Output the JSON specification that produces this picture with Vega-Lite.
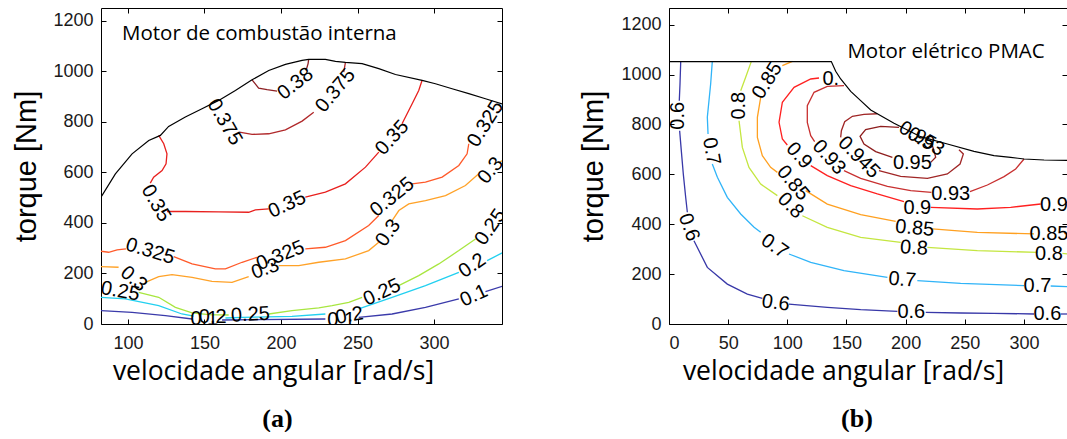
{
"$schema": "https://vega.github.io/schema/vega-lite/v6.json",
"padding": {"left": 12, "top": 7, "right": 0, "bottom": 0},
"background": "white",
"spacing": 76,
"config": {
  "view": {"stroke": null},
  "axis": {"grid": false, "domainColor": "#000", "domainWidth": 1, "tickColor": "#000", "tickSize": -5, "labelFont": "Liberation Sans", "labelFontSize": 18, "labelColor": "#1a1a1a", "titleColor": "#000", "titleFontWeight": "normal", "format": "d"}
},
"datasets": {
  "linesA": [
    {"s":"A1","lev":"0.38","x":181.1,"y":966},{"s":"A1","lev":"0.38","x":185.4,"y":933},{"s":"A1","lev":"0.38","x":190.9,"y":926.7},{"s":"A1","lev":"0.38","x":197.4,"y":921.5},
    {"s":"A2","lev":"0.38","x":216.4,"y":1003},{"s":"A2","lev":"0.38","x":217.7,"y":1030},{"s":"A2","lev":"0.38","x":218.1,"y":1047},
    {"s":"A4","lev":"0.375","x":172.8,"y":759},{"s":"A4","lev":"0.375","x":181.1,"y":750},{"s":"A4","lev":"0.375","x":192.0,"y":752.5},{"s":"A4","lev":"0.375","x":202.9,"y":768},{"s":"A4","lev":"0.375","x":213.8,"y":802.6},{"s":"A4","lev":"0.375","x":221.4,"y":838},
    {"s":"A5","lev":"0.375","x":241.0,"y":996.7},{"s":"A5","lev":"0.375","x":242.1,"y":1035},
    {"s":"A6","lev":"0.35","x":120.1,"y":746},{"s":"A6","lev":"0.35","x":123.4,"y":713},{"s":"A6","lev":"0.35","x":125.5,"y":673},{"s":"A6","lev":"0.35","x":124.9,"y":633.7},{"s":"A6","lev":"0.35","x":122.3,"y":607},{"s":"A6","lev":"0.35","x":116.8,"y":581},{"s":"A6","lev":"0.35","x":114.6,"y":557},
    {"s":"A7","lev":"0.35","x":125.5,"y":445},{"s":"A7","lev":"0.35","x":137.5,"y":445},{"s":"A7","lev":"0.35","x":159.3,"y":443.6},{"s":"A7","lev":"0.35","x":178.9,"y":442},{"s":"A7","lev":"0.35","x":183.3,"y":451.5},{"s":"A7","lev":"0.35","x":192.0,"y":455.4},
    {"s":"A8","lev":"0.35","x":215.9,"y":501.7},{"s":"A8","lev":"0.35","x":229.0,"y":521.5},{"s":"A8","lev":"0.35","x":242.1,"y":554.5},{"s":"A8","lev":"0.35","x":255.2,"y":620.5},{"s":"A8","lev":"0.35","x":263.9,"y":680},
    {"s":"A9","lev":"0.35","x":279.1,"y":792},{"s":"A9","lev":"0.35","x":285.7,"y":871},{"s":"A9","lev":"0.35","x":290.0,"y":924},{"s":"A9","lev":"0.35","x":292.2,"y":964},
    {"s":"A10","lev":"0.325","x":82.4,"y":287.8},{"s":"A10","lev":"0.325","x":87.4,"y":283.8},{"s":"A10","lev":"0.325","x":92.9,"y":293},{"s":"A10","lev":"0.325","x":98.7,"y":297},
    {"s":"A11","lev":"0.325","x":129.9,"y":266.7},{"s":"A11","lev":"0.325","x":141.9,"y":237.6},{"s":"A11","lev":"0.325","x":157.1,"y":217.8},{"s":"A11","lev":"0.325","x":163.7,"y":217.8},{"s":"A11","lev":"0.325","x":174.6,"y":244.2},{"s":"A11","lev":"0.325","x":184.4,"y":264},
    {"s":"A12","lev":"0.325","x":215.9,"y":297},{"s":"A12","lev":"0.325","x":229.0,"y":303.6},{"s":"A12","lev":"0.325","x":242.1,"y":330},{"s":"A12","lev":"0.325","x":257.3,"y":389.4},{"s":"A12","lev":"0.325","x":263.9,"y":429},
    {"s":"A13","lev":"0.325","x":285.7,"y":554.5},{"s":"A13","lev":"0.325","x":294.4,"y":561},{"s":"A13","lev":"0.325","x":305.3,"y":581},{"s":"A13","lev":"0.325","x":316.2,"y":627},{"s":"A13","lev":"0.325","x":321.6,"y":673},{"s":"A13","lev":"0.325","x":322.7,"y":713},
    {"s":"A14","lev":"0.325","x":342.3,"y":845},{"s":"A14","lev":"0.325","x":344.5,"y":851.5},
    {"s":"A15","lev":"0.3","x":82.4,"y":227},{"s":"A15","lev":"0.3","x":93.9,"y":224.4},
    {"s":"A16","lev":"0.3","x":111.4,"y":165},{"s":"A16","lev":"0.3","x":120.1,"y":187.5},{"s":"A16","lev":"0.3","x":128.8,"y":195.4},{"s":"A16","lev":"0.3","x":141.9,"y":184.8},{"s":"A16","lev":"0.3","x":154.9,"y":169},{"s":"A16","lev":"0.3","x":168.0,"y":165},{"s":"A16","lev":"0.3","x":178.9,"y":187.5},
    {"s":"A17","lev":"0.3","x":198.5,"y":231},{"s":"A17","lev":"0.3","x":211.6,"y":231},{"s":"A17","lev":"0.3","x":224.7,"y":244.2},{"s":"A17","lev":"0.3","x":242.1,"y":257.4},{"s":"A17","lev":"0.3","x":257.3,"y":290.4},{"s":"A17","lev":"0.3","x":263.9,"y":323.4},
    {"s":"A18","lev":"0.3","x":272.6,"y":409},{"s":"A18","lev":"0.3","x":277.0,"y":448.8},{"s":"A18","lev":"0.3","x":283.5,"y":475},{"s":"A18","lev":"0.3","x":294.4,"y":488.4},{"s":"A18","lev":"0.3","x":307.5,"y":508},{"s":"A18","lev":"0.3","x":320.5,"y":547.9},{"s":"A18","lev":"0.3","x":329.2,"y":594},
    {"s":"A19","lev":"0.3","x":342.3,"y":636},{"s":"A19","lev":"0.3","x":344.5,"y":647},
    {"s":"A20","lev":"0.25","x":107.0,"y":125.4},{"s":"A20","lev":"0.25","x":120.1,"y":105.6},{"s":"A20","lev":"0.25","x":131.0,"y":66},{"s":"A20","lev":"0.25","x":141.9,"y":43.6},{"s":"A20","lev":"0.25","x":152.8,"y":37},{"s":"A20","lev":"0.25","x":165.8,"y":35.6},
    {"s":"A21","lev":"0.25","x":192.0,"y":39.6},{"s":"A21","lev":"0.25","x":207.2,"y":52.8},{"s":"A21","lev":"0.25","x":224.7,"y":63.4},{"s":"A21","lev":"0.25","x":233.4,"y":72.6},{"s":"A21","lev":"0.25","x":244.3,"y":85.8},{"s":"A21","lev":"0.25","x":253.0,"y":105.6},
    {"s":"A22","lev":"0.25","x":276.9,"y":151.8},{"s":"A22","lev":"0.25","x":290.0,"y":191.4},{"s":"A22","lev":"0.25","x":303.1,"y":237.6},{"s":"A22","lev":"0.25","x":316.2,"y":290.4},{"s":"A22","lev":"0.25","x":327.1,"y":336.6},
    {"s":"A24","lev":"0.2","x":82.4,"y":105.6},{"s":"A24","lev":"0.2","x":98.3,"y":99},{"s":"A24","lev":"0.2","x":120.1,"y":72.6},{"s":"A24","lev":"0.2","x":135.3,"y":39.6},{"s":"A24","lev":"0.2","x":143.0,"y":31},
    {"s":"A25","lev":"0.2","x":163.7,"y":23.8},{"s":"A25","lev":"0.2","x":174.6,"y":26.4},{"s":"A25","lev":"0.2","x":207.2,"y":30.4},{"s":"A25","lev":"0.2","x":229.0,"y":39.6},
    {"s":"A26","lev":"0.2","x":250.8,"y":59.4},{"s":"A26","lev":"0.2","x":272.6,"y":105.6},{"s":"A26","lev":"0.2","x":294.4,"y":151.8},{"s":"A26","lev":"0.2","x":316.2,"y":204.6},
    {"s":"A27","lev":"0.2","x":334.7,"y":250.8},{"s":"A27","lev":"0.2","x":344.5,"y":281.2},
    {"s":"A28","lev":"0.1","x":82.4,"y":52.8},{"s":"A28","lev":"0.1","x":102.7,"y":46.2},{"s":"A28","lev":"0.1","x":124.5,"y":33},{"s":"A28","lev":"0.1","x":141.9,"y":19.8},
    {"s":"A29","lev":"0.1","x":161.5,"y":15.8},{"s":"A29","lev":"0.1","x":185.4,"y":17.2},{"s":"A29","lev":"0.1","x":229.0,"y":19.8},
    {"s":"A30","lev":"0.1","x":250.8,"y":26.4},{"s":"A30","lev":"0.1","x":272.6,"y":39.6},{"s":"A30","lev":"0.1","x":294.4,"y":66},{"s":"A30","lev":"0.1","x":316.2,"y":99},
    {"s":"A31","lev":"0.1","x":333.6,"y":128},{"s":"A31","lev":"0.1","x":344.5,"y":149.2}
  ],
  "boundA": [
    {"x":82.4,"y":501.7},{"x":91.8,"y":594},{"x":102.7,"y":673},{"x":113.6,"y":726},{"x":121.2,"y":746},{"x":126.6,"y":781.5},{"x":137.5,"y":818.5},{"x":148.4,"y":851.5},{"x":159.3,"y":884.5},{"x":170.2,"y":924},{"x":181.1,"y":966},{"x":192.0,"y":1003},{"x":202.9,"y":1027},{"x":213.8,"y":1043},{"x":218.1,"y":1047},{"x":229.0,"y":1047},{"x":235.6,"y":1039},{"x":242.1,"y":1035},{"x":253.0,"y":1030},{"x":263.9,"y":1010},{"x":274.8,"y":987},{"x":292.2,"y":964},{"x":300.9,"y":950.5},{"x":311.8,"y":930.7},{"x":322.7,"y":911},{"x":333.6,"y":891},{"x":344.5,"y":871}
  ],
  "labelsA": [
    {"t":"0.38","x":209.4,"y":950.5,"rot":-38},
    {"t":"0.375","x":163.2,"y":798.7,"rot":60},{"t":"0.375","x":235.6,"y":924,"rot":-50},
    {"t":"0.35","x":118.3,"y":478,"rot":60},{"t":"0.35","x":204.0,"y":472.6,"rot":-25},{"t":"0.35","x":272.6,"y":736.6,"rot":-48},
    {"t":"0.325","x":114.6,"y":287.8,"rot":17},{"t":"0.325","x":199.6,"y":270.6,"rot":-22},{"t":"0.325","x":272.6,"y":501.7,"rot":-39},{"t":"0.325","x":333.6,"y":792,"rot":-58},
    {"t":"0.3","x":103.8,"y":178.2,"rot":40},{"t":"0.3","x":189.8,"y":217.8,"rot":-20},{"t":"0.3","x":270.0,"y":360.4,"rot":-55},{"t":"0.3","x":336.9,"y":607,"rot":-50},
    {"t":"0.25","x":95.0,"y":129.4,"rot":10},{"t":"0.25","x":180.0,"y":37,"rot":-3},{"t":"0.25","x":266.0,"y":125,"rot":-25},{"t":"0.25","x":336.9,"y":382.8,"rot":-55},
    {"t":"0.2","x":155.4,"y":26.4,"rot":0},{"t":"0.2","x":244.7,"y":33,"rot":-10},{"t":"0.2","x":325.0,"y":231,"rot":-35},
    {"t":"0.1","x":149.9,"y":19.8,"rot":0},{"t":"0.1","x":239.3,"y":17.2,"rot":0},{"t":"0.1","x":326.0,"y":112.2,"rot":-25}
  ],
  "linesB": [
    {"s":"B1","lev":"0.6","x":9.9,"y":1052},{"s":"B1","lev":"0.6","x":9.3,"y":962},{"s":"B1","lev":"0.6","x":8.7,"y":895},
    {"s":"B2","lev":"0.6","x":9.0,"y":775},{"s":"B2","lev":"0.6","x":10.4,"y":695},{"s":"B2","lev":"0.6","x":12.1,"y":601},{"s":"B2","lev":"0.6","x":14.1,"y":508},{"s":"B2","lev":"0.6","x":15.5,"y":448},
    {"s":"B3","lev":"0.6","x":21.1,"y":334},{"s":"B3","lev":"0.6","x":32.4,"y":227},{"s":"B3","lev":"0.6","x":49.3,"y":160},{"s":"B3","lev":"0.6","x":66.2,"y":120},{"s":"B3","lev":"0.6","x":78.9,"y":103},
    {"s":"B4","lev":"0.6","x":101.4,"y":80},{"s":"B4","lev":"0.6","x":133.8,"y":67},{"s":"B4","lev":"0.6","x":162.0,"y":57.5},{"s":"B4","lev":"0.6","x":193.0,"y":50.8},
    {"s":"B5","lev":"0.6","x":217.0,"y":46.8},{"s":"B5","lev":"0.6","x":246.5,"y":44.1},{"s":"B5","lev":"0.6","x":274.7,"y":42.8},{"s":"B5","lev":"0.6","x":308.5,"y":40.1},
    {"s":"B6","lev":"0.6","x":331.1,"y":40.1},{"s":"B6","lev":"0.6","x":337.0,"y":40.1},
    {"s":"B7","lev":"0.7","x":36.6,"y":1053},{"s":"B7","lev":"0.7","x":35.2,"y":962},{"s":"B7","lev":"0.7","x":32.4,"y":829},{"s":"B7","lev":"0.7","x":33.0,"y":762},
    {"s":"B8","lev":"0.7","x":36.6,"y":641.5},{"s":"B8","lev":"0.7","x":40.9,"y":588},{"s":"B8","lev":"0.7","x":49.3,"y":508},{"s":"B8","lev":"0.7","x":60.6,"y":441},{"s":"B8","lev":"0.7","x":71.9,"y":387.6},{"s":"B8","lev":"0.7","x":77.5,"y":367.5},
    {"s":"B9","lev":"0.7","x":101.4,"y":280.7},{"s":"B9","lev":"0.7","x":119.8,"y":247},{"s":"B9","lev":"0.7","x":147.9,"y":213.8},{"s":"B9","lev":"0.7","x":184.6,"y":187},
    {"s":"B10","lev":"0.7","x":209.9,"y":173.7},{"s":"B10","lev":"0.7","x":246.5,"y":163},{"s":"B10","lev":"0.7","x":300.1,"y":153.7},
    {"s":"B11","lev":"0.7","x":322.6,"y":152.4},{"s":"B11","lev":"0.7","x":337.0,"y":149.7},
    {"s":"B12","lev":"0.8","x":69.6,"y":1053},{"s":"B12","lev":"0.8","x":64.8,"y":989},{"s":"B12","lev":"0.8","x":60.6,"y":935.6},
    {"s":"B13","lev":"0.8","x":59.2,"y":815},{"s":"B13","lev":"0.8","x":62.0,"y":708},{"s":"B13","lev":"0.8","x":67.6,"y":628},{"s":"B13","lev":"0.8","x":77.5,"y":561},{"s":"B13","lev":"0.8","x":91.6,"y":514.6},
    {"s":"B14","lev":"0.8","x":112.7,"y":434},{"s":"B14","lev":"0.8","x":133.8,"y":387.6},{"s":"B14","lev":"0.8","x":162.0,"y":347.5},{"s":"B14","lev":"0.8","x":195.8,"y":327.5},
    {"s":"B15","lev":"0.8","x":218.4,"y":307.4},{"s":"B15","lev":"0.8","x":260.6,"y":294},{"s":"B15","lev":"0.8","x":311.4,"y":287.4},
    {"s":"B16","lev":"0.8","x":332.5,"y":283.3},{"s":"B16","lev":"0.8","x":337.0,"y":280.7},
    {"s":"B17","lev":"0.85","x":104.3,"y":1053},{"s":"B17","lev":"0.85","x":95.8,"y":1036},
    {"s":"B18","lev":"0.85","x":77.5,"y":909},{"s":"B18","lev":"0.85","x":74.7,"y":828.7},{"s":"B18","lev":"0.85","x":74.7,"y":748.5},{"s":"B18","lev":"0.85","x":78.9,"y":675},{"s":"B18","lev":"0.85","x":85.9,"y":628},{"s":"B18","lev":"0.85","x":91.6,"y":608},
    {"s":"B19","lev":"0.85","x":115.5,"y":534.6},{"s":"B19","lev":"0.85","x":133.8,"y":481},{"s":"B19","lev":"0.85","x":162.0,"y":438.4},{"s":"B19","lev":"0.85","x":191.6,"y":411.7},
    {"s":"B20","lev":"0.85","x":222.6,"y":381},{"s":"B20","lev":"0.85","x":260.6,"y":367.5},{"s":"B20","lev":"0.85","x":308.5,"y":361},
    {"s":"B21","lev":"0.85","x":333.9,"y":362},{"s":"B21","lev":"0.85","x":337.0,"y":363.5},
    {"s":"B23","lev":"0.9","x":126.8,"y":986.4},{"s":"B23","lev":"0.9","x":119.8,"y":982.4},{"s":"B23","lev":"0.9","x":105.7,"y":949},{"s":"B23","lev":"0.9","x":95.8,"y":888.8},{"s":"B23","lev":"0.9","x":93.0,"y":808.6},{"s":"B23","lev":"0.9","x":95.8,"y":741.8},{"s":"B23","lev":"0.9","x":100.0,"y":717.7},
    {"s":"B24","lev":"0.9","x":119.8,"y":634.9},{"s":"B24","lev":"0.9","x":133.8,"y":594.8},{"s":"B24","lev":"0.9","x":153.6,"y":554.7},{"s":"B24","lev":"0.9","x":176.1,"y":521.3},{"s":"B24","lev":"0.9","x":198.6,"y":490.5},
    {"s":"B25","lev":"0.9","x":221.2,"y":467.8},{"s":"B25","lev":"0.9","x":260.6,"y":461.1},{"s":"B25","lev":"0.9","x":288.8,"y":467.8},{"s":"B25","lev":"0.9","x":314.2,"y":481.2},
    {"s":"B26","lev":"0.9","x":335.3,"y":487.8},{"s":"B26","lev":"0.9","x":337.0,"y":489.2},
    {"s":"B27","lev":"0.93","x":147.9,"y":955.6},{"s":"B27","lev":"0.93","x":133.8,"y":953},{"s":"B27","lev":"0.93","x":122.6,"y":929},{"s":"B27","lev":"0.93","x":116.9,"y":875.4},{"s":"B27","lev":"0.93","x":116.9,"y":808.6},{"s":"B27","lev":"0.93","x":119.8,"y":755.1},{"s":"B27","lev":"0.93","x":123.1,"y":731},
    {"s":"B28","lev":"0.93","x":147.9,"y":614.8},{"s":"B28","lev":"0.93","x":162.0,"y":584},{"s":"B28","lev":"0.93","x":184.6,"y":552},{"s":"B28","lev":"0.93","x":204.3,"y":534.6},{"s":"B28","lev":"0.93","x":221.8,"y":528},
    {"s":"B29","lev":"0.93","x":254.4,"y":530.6},{"s":"B29","lev":"0.93","x":269.1,"y":557.3},{"s":"B29","lev":"0.93","x":283.2,"y":590.8},{"s":"B29","lev":"0.93","x":293.0,"y":621.5},{"s":"B29","lev":"0.93","x":300.1,"y":661.6},
    {"s":"B30","lev":"0.945","x":176.0,"y":843},{"s":"B30","lev":"0.945","x":164.8,"y":840.7},{"s":"B30","lev":"0.945","x":155.0,"y":832.7},{"s":"B30","lev":"0.945","x":148.5,"y":811.3},{"s":"B30","lev":"0.945","x":145.7,"y":775.2},{"s":"B30","lev":"0.945","x":145.1,"y":748.5},
    {"s":"B31","lev":"0.945","x":177.5,"y":614.8},{"s":"B31","lev":"0.945","x":195.8,"y":592},{"s":"B31","lev":"0.945","x":218.4,"y":584},{"s":"B31","lev":"0.945","x":235.3,"y":601.4},{"s":"B31","lev":"0.945","x":246.0,"y":641.5},{"s":"B31","lev":"0.945","x":248.8,"y":681.6},{"s":"B31","lev":"0.945","x":245.1,"y":699},
    {"s":"B32","lev":"0.95","x":194.4,"y":788.6},{"s":"B32","lev":"0.95","x":178.9,"y":792.6},{"s":"B32","lev":"0.95","x":166.2,"y":779.2},{"s":"B32","lev":"0.95","x":161.5,"y":752.5},{"s":"B32","lev":"0.95","x":164.8,"y":721.7},{"s":"B32","lev":"0.95","x":174.7,"y":691},{"s":"B32","lev":"0.95","x":188.8,"y":668.3},
    {"s":"B33","lev":"0.95","x":221.2,"y":648.2},{"s":"B33","lev":"0.95","x":225.4,"y":668.3},{"s":"B33","lev":"0.95","x":224.0,"y":695},{"s":"B33","lev":"0.95","x":222.6,"y":715}
  ],
  "boundB": [
    {"x":0,"y":1052},{"x":137.2,"y":1052},{"x":140.9,"y":1013.1},{"x":145.1,"y":982.4},{"x":153.6,"y":932.9},{"x":162.0,"y":895.5},{"x":170.5,"y":858.1},{"x":190.2,"y":804.6},{"x":212.7,"y":751.1},{"x":235.3,"y":721.7},{"x":257.8,"y":692.3},{"x":274.7,"y":675},{"x":288.8,"y":668.3},{"x":300.1,"y":661.6},{"x":317.0,"y":657.6},{"x":337.0,"y":656.2}
  ],
  "labelsB": [
    {"t":"0.6","x":7.6,"y":835,"rot":-90},{"t":"0.6","x":16.9,"y":387.6,"rot":70},{"t":"0.6","x":90.2,"y":84.2,"rot":8},{"t":"0.6","x":204.8,"y":46.8,"rot":0},{"t":"0.6","x":319.8,"y":40.1,"rot":0},
    {"t":"0.7","x":35.8,"y":692.3,"rot":80},{"t":"0.7","x":89.3,"y":311.4,"rot":35},{"t":"0.7","x":197.2,"y":177.8,"rot":5},{"t":"0.7","x":311.4,"y":153.7,"rot":0},
    {"t":"0.8","x":59.2,"y":875.4,"rot":-90},{"t":"0.8","x":102.8,"y":474.5,"rot":45},{"t":"0.8","x":207.1,"y":304.7,"rot":3},{"t":"0.8","x":321.2,"y":280.7,"rot":0},
    {"t":"0.85","x":83.1,"y":975.7,"rot":-58},{"t":"0.85","x":104.8,"y":565.4,"rot":50},{"t":"0.85","x":207.7,"y":383.6,"rot":5},{"t":"0.85","x":321.2,"y":361,"rot":0},
    {"t":"0.","x":136.7,"y":982.4,"rot":0},{"t":"0.9","x":109.9,"y":675,"rot":48},{"t":"0.9","x":209.9,"y":465.1,"rot":0},{"t":"0.9","x":325.4,"y":478.5,"rot":0},
    {"t":"0.93","x":135.2,"y":668.3,"rot":48},{"t":"0.93","x":238.1,"y":521.3,"rot":0},{"t":"0.93","x":217.0,"y":731,"rot":30},
    {"t":"0.945","x":160.6,"y":668.3,"rot":45},
    {"t":"0.95","x":205.7,"y":645.5,"rot":0},{"t":"0.95","x":209.9,"y":755.1,"rot":30}
  ]
},
"hconcat": [
  {
    "width": 401, "height": 316,
    "title": {"text": "(a)", "orient": "bottom", "anchor": "middle", "dx": -24, "offset": 21, "font": "Liberation Serif", "fontSize": 26, "fontWeight": "bold", "color": "#000"},
    "layer": [
      {"data": {"name": "linesA"}, "mark": {"type": "line", "strokeWidth": 1.3, "clip": true},
       "encoding": {
         "x": {"field": "x", "type": "quantitative", "scale": {"domain": [82.4, 344.4], "nice": false, "zero": false},
               "axis": {"orient": "bottom", "values": [100,150,200,250,300], "labelPadding": 15, "title": "velocidade angular [rad/s]", "titleFont": "Open Sans", "titleFontSize": 26.5, "titlePadding": 6, "titleX": 172}},
         "y": {"field": "y", "type": "quantitative", "scale": {"domain": [0, 1250], "nice": false, "zero": false},
               "axis": {"orient": "left", "values": [0,200,400,600,800,1000,1200], "labelPadding": 13, "title": "torque [Nm]", "titleFont": "Liberation Sans", "titleFontSize": 29, "titlePadding": 11}},
         "detail": {"field": "s", "type": "nominal"},
         "color": {"field": "lev", "type": "nominal", "legend": null,
                   "scale": {"domain": ["0.1","0.2","0.25","0.3","0.325","0.35","0.375","0.38","0.6","0.7","0.8","0.85","0.9","0.93","0.945","0.95"],
                             "range": ["#3A3AAA","#22D0F0","#A8E640","#FFA228","#FF5A2A","#E8201E","#B0282A","#8E2024","#3838A8","#30B4F8","#C4E640","#FFA020","#FF2020","#C83030","#A02626","#8E1E1E"]}},
         "order": {"value": null}
       }},
      {"data": {"name": "boundA"}, "mark": {"type": "line", "color": "#000", "strokeWidth": 1.2, "clip": true},
       "encoding": {
         "x": {"field": "x", "type": "quantitative", "scale": {"domain": [82.4, 344.4], "nice": false, "zero": false},
               "axis": {"orient": "top", "values": [100,150,200,250,300], "labels": false, "title": null}},
         "y": {"field": "y", "type": "quantitative", "scale": {"domain": [0, 1250], "nice": false, "zero": false},
               "axis": {"orient": "right", "values": [0,200,400,600,800,1000,1200], "labels": false, "title": null}},
         "order": {"value": null}
       }},
      {"data": {"name": "labelsA"}, "mark": {"type": "text", "font": "Liberation Sans", "fontSize": 20, "color": "#000", "clip": true},
       "encoding": {
         "x": {"field": "x", "type": "quantitative", "axis": null},
         "y": {"field": "y", "type": "quantitative", "axis": null},
         "text": {"field": "t"},
         "angle": {"field": "rot", "type": "quantitative", "scale": null}
       }},
      {"data": {"values": [{"x": 96.1, "y": 1146, "t": "Motor de combustão interna"}]},
       "mark": {"type": "text", "align": "left", "baseline": "middle", "font": "Open Sans", "fontSize": 20.5, "color": "#000"},
       "encoding": {
         "x": {"field": "x", "type": "quantitative", "axis": null},
         "y": {"field": "y", "type": "quantitative", "axis": null},
         "text": {"field": "t"}
       }}
    ]
  },
  {
    "width": 398, "height": 316,
    "title": {"text": "(b)", "orient": "bottom", "anchor": "middle", "dx": -11, "offset": 21, "font": "Liberation Serif", "fontSize": 26, "fontWeight": "bold", "color": "#000"},
    "layer": [
      {"data": {"name": "linesB"}, "mark": {"type": "line", "strokeWidth": 1.3, "clip": true},
       "encoding": {
         "x": {"field": "x", "type": "quantitative", "scale": {"domain": [0, 336.4], "nice": false, "zero": false},
               "axis": {"orient": "bottom", "values": [0,50,100,150,200,250,300], "labelPadding": 15, "title": "velocidade angular [rad/s]", "titleFont": "Open Sans", "titleFontSize": 26.5, "titlePadding": 6, "titleX": 174}},
         "y": {"field": "y", "type": "quantitative", "scale": {"domain": [0, 1267], "nice": false, "zero": false},
               "axis": {"orient": "left", "values": [0,200,400,600,800,1000,1200], "labelPadding": 13, "title": "torque [Nm]", "titleFont": "Liberation Sans", "titleFontSize": 29, "titlePadding": 12}},
         "detail": {"field": "s", "type": "nominal"},
         "color": {"field": "lev", "type": "nominal", "legend": null,
                   "scale": {"domain": ["0.1","0.2","0.25","0.3","0.325","0.35","0.375","0.38","0.6","0.7","0.8","0.85","0.9","0.93","0.945","0.95"],
                             "range": ["#3A3AAA","#22D0F0","#A8E640","#FFA228","#FF5A2A","#E8201E","#B0282A","#8E2024","#3838A8","#30B4F8","#C4E640","#FFA020","#FF2020","#C83030","#A02626","#8E1E1E"]}},
         "order": {"value": null}
       }},
      {"data": {"name": "boundB"}, "mark": {"type": "line", "color": "#000", "strokeWidth": 1.2, "clip": true},
       "encoding": {
         "x": {"field": "x", "type": "quantitative", "scale": {"domain": [0, 336.4], "nice": false, "zero": false},
               "axis": {"orient": "top", "values": [0,50,100,150,200,250,300], "labels": false, "title": null}},
         "y": {"field": "y", "type": "quantitative", "scale": {"domain": [0, 1267], "nice": false, "zero": false},
               "axis": {"orient": "right", "values": [0,200,400,600,800,1000,1200], "labels": false, "title": null, "domain": false}},
         "order": {"value": null}
       }},
      {"data": {"name": "labelsB"}, "mark": {"type": "text", "font": "Liberation Sans", "fontSize": 20, "color": "#000", "clip": true},
       "encoding": {
         "x": {"field": "x", "type": "quantitative", "axis": null},
         "y": {"field": "y", "type": "quantitative", "axis": null},
         "text": {"field": "t"},
         "angle": {"field": "rot", "type": "quantitative", "scale": null}
       }},
      {"data": {"values": [{"x": 150.8, "y": 1092, "t": "Motor elétrico PMAC"}]},
       "mark": {"type": "text", "align": "left", "baseline": "middle", "font": "Open Sans", "fontSize": 20.5, "color": "#000"},
       "encoding": {
         "x": {"field": "x", "type": "quantitative", "axis": null},
         "y": {"field": "y", "type": "quantitative", "axis": null},
         "text": {"field": "t"}
       }}
    ]
  }
]
}
